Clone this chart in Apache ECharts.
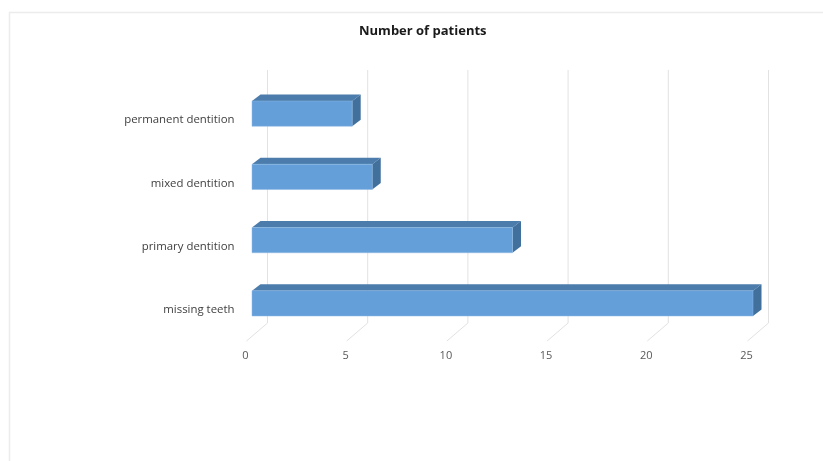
<!DOCTYPE html>
<html><head><meta charset="utf-8">
<style>html,body{margin:0;padding:0;background:#fff}#c{width:823px;height:461px}</style>
<script src="https://cdn.jsdelivr.net/npm/echarts@6/dist/echarts.min.js"></script>
</head><body><div id="c"></div>
<script>
const titleText = 'Number of patients';
const categories = ['missing teeth', 'primary dentition', 'mixed dentition', 'permanent dentition'];
const patients = [25, 13, 6, 5];
const tickValues = [0, 5, 10, 15, 20, 25];

const chart = echarts.init(document.getElementById('c'), null, {renderer: 'canvas'});
const faceFront = '#659fd9', faceTop = '#4b7cac', faceSide = '#41709d';
const dx = 8.5, dy = -6.5;

chart.setOption({
  animation: false,
  backgroundColor: '#fff',
  title: {
    text: titleText, left: 354, top: 20,
    textStyle: {fontFamily: 'Open Sans', fontSize: 13, fontWeight: 'bold', color: '#1a1a1a'}
  },
  graphic: [
    {type: 'polyline', silent: true, shape: {points: [[9.5, 461], [9.5, 12.5], [823, 12.5]]},
     style: {fill: null, stroke: '#ececec', lineWidth: 1.5}}
  ],
  grid: {left: 245.5, width: 501, top: 88.5, height: 253},
  xAxis: {
    type: 'value', min: 0, max: 25, interval: 5,
    axisLine: {show: false}, axisTick: {show: false}, splitLine: {show: false},
    axisLabel: {margin: 9, fontFamily: 'Open Sans', fontSize: 11, color: '#595959'}
  },
  yAxis: {
    type: 'category', data: categories,
    axisLine: {show: false}, axisTick: {show: false},
    axisLabel: {margin: 11, padding: [1, 0, 0, 0], fontFamily: 'Open Sans', fontSize: 11.4, color: '#404040'}
  },
  series: [
    {
      name: 'walls', type: 'custom', coordinateSystem: 'cartesian2d', silent: true, z: 1,
      data: tickValues.map(v => [v, categories[0]]),
      encode: {x: 0, y: 1},
      renderItem(params, api) {
        const x = api.coord([api.value(0), 0])[0];
        const s = {stroke: '#e2e2e2', lineWidth: 1, fill: null};
        return {type: 'polyline', shape: {points: [[x + 22, 70], [x + 22, 323], [x + 1, 341]]}, style: s};
      }
    },
    {
      name: 'Number of patients', type: 'custom', coordinateSystem: 'cartesian2d', z: 2,
      data: patients.map((v, i) => [v, categories[i]]),
      encode: {x: 0, y: 1},
      renderItem(params, api) {
        const end = api.coord([api.value(0), params.dataIndex]);
        const start = api.coord([0, params.dataIndex]);
        const h = api.size([0, 1])[1] * 0.4;
        const x0 = start[0] + 6.5, x1 = end[0] + 6.5;
        const yT = end[1] - 6.5 - h / 2, yB = end[1] - 6.5 + h / 2;
        return {type: 'group', children: [
          {type: 'polygon', shape: {points: [[x0, yT], [x0 + dx, yT + dy], [x1 + dx, yT + dy], [x1, yT]]},
           style: {fill: faceTop}},
          {type: 'polygon', shape: {points: [[x1, yT], [x1 + dx, yT + dy], [x1 + dx, yB + dy], [x1, yB]]},
           style: {fill: faceSide}},
          {type: 'rect', shape: {x: x0, y: yT, width: x1 - x0, height: yB - yT},
           style: {fill: faceFront, stroke: '#8fbbe5', lineWidth: 0.5}}
        ]};
      }
    }
  ]
});
</script></body></html>
